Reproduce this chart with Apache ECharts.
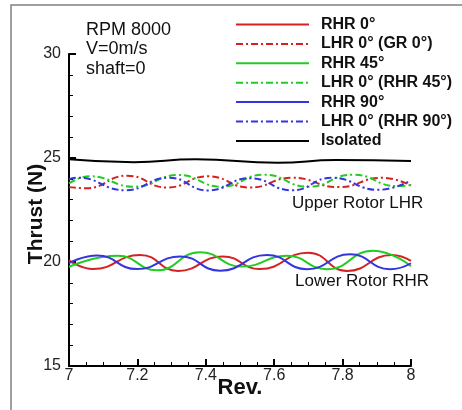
<!DOCTYPE html>
<html>
<head>
<meta charset="utf-8">
<script src="https://cdn.jsdelivr.net/npm/echarts@6/dist/echarts.min.js"></script>
<style>
  html, body { margin: 0; padding: 0; background: #fff; }
  #chart { width: 462px; height: 410px; }
</style>
</head>
<body>
<div id="chart"></div>
<script>
// axis ticks
const revTicks = [7, 7.2, 7.4, 7.6, 7.8, 8];
const thrustTicks = [15, 20, 25, 30];

// lower rotor (RHR), solid lines
const rhr0Rev = [7.0, 7.07, 7.208, 7.319, 7.45, 7.558, 7.699, 7.813, 7.944, 8.0];
const rhr0Thrust = [20.08, 19.66, 20.34, 19.57, 20.27, 19.66, 20.45, 19.57, 20.34, 20.05];
const rhr45Rev = [7.0, 7.143, 7.257, 7.383, 7.506, 7.637, 7.754, 7.889, 8.0];
const rhr45Thrust = [19.77, 20.3, 19.6, 20.47, 19.78, 20.3, 19.65, 20.54, 19.8];
const rhr90Rev = [7.0, 7.082, 7.199, 7.325, 7.442, 7.579, 7.696, 7.822, 7.939, 8.0];
const rhr90Thrust = [19.95, 20.31, 19.66, 20.27, 19.58, 20.34, 19.65, 20.37, 19.65, 19.94];

// upper rotor (LHR), dash-dot lines
const lhrGrRev = [7.0, 7.05, 7.17, 7.287, 7.406, 7.529, 7.652, 7.789, 7.915, 8.0];
const lhrGrThrust = [23.6, 23.55, 24.15, 23.58, 24.12, 23.58, 24.05, 23.6, 24.05, 23.68];
const lhr45Rev = [7.0, 7.061, 7.19, 7.32, 7.445, 7.57, 7.70, 7.83, 7.96, 8.0];
const lhr45Thrust = [23.78, 24.12, 23.62, 24.18, 23.62, 24.2, 23.62, 24.2, 23.65, 23.7];
const lhr90Rev = [7.0, 7.026, 7.164, 7.292, 7.406, 7.529, 7.652, 7.769, 7.904, 8.0];
const lhr90Thrust = [23.98, 24.05, 23.45, 24.05, 23.44, 24.03, 23.45, 24.05, 23.47, 23.92];

// isolated rotor
const isoRev = [7.0, 7.19, 7.37, 7.61, 7.78, 8.0];
const isoThrust = [24.94, 24.8, 24.94, 24.77, 24.9, 24.86];

const chart = echarts.init(document.getElementById('chart'));

const FONT = 'Liberation Sans, Arial, sans-serif';
const dashDot = [7, 3, 2, 3];

const zip = (xs, ys) => xs.map((x, i) => [x, ys[i]]);

// 生成系列
const makeSeries = (name, xs, ys, color, dashed) => ({
  name,
  type: 'line',
  data: zip(xs, ys),
  smooth: 0.5,
  symbol: 'none',
  lineStyle: {
    color,
    width: 2,
    type: dashed ? dashDot : 'solid'
  },
  itemStyle: { color }
});

const RED = '#d42222';
const GREEN = '#22cc22';
const BLUE = '#3434e0';

const axisLabel = {
  color: '#222',
  fontFamily: FONT,
  fontSize: 16
};

const nameTextStyle = {
  color: '#111',
  fontFamily: FONT,
  fontSize: 22,
  fontWeight: 'bold'
};

const option = {
  animation: false,
  grid: {
    left: 69,
    top: 54,
    width: 342,
    height: 312,
    containLabel: false
  },
  legend: {
    orient: 'vertical',
    left: 235,
    top: 15,
    padding: 0,
    itemWidth: 73,
    itemHeight: 10,
    itemGap: 0.4,
    itemStyle: { opacity: 0 },
    textStyle: {
      color: '#111',
      fontFamily: FONT,
      fontSize: 16,
      fontWeight: 'bold',
      lineHeight: 19,
      padding: [0, 0, 0, 7]
    },
    data: ['RHR 0°', 'LHR 0° (GR 0°)', 'RHR 45°', 'LHR 0° (RHR 45°)', 'RHR 90°', 'LHR 0° (RHR 90°)', 'Isolated']
  },
  xAxis: {
    type: 'value',
    min: revTicks[0],
    max: revTicks[revTicks.length - 1],
    interval: 0.2,
    name: 'Rev.',
    nameLocation: 'middle',
    nameGap: 11,
    nameMoveOverlap: false,
    nameTextStyle,
    axisLine: { lineStyle: { color: '#000', width: 2 } },
    axisTick: { inside: true, length: 7, lineStyle: { color: '#000', width: 2 } },
    minorTick: { show: true, splitNumber: 4, length: 4, lineStyle: { color: '#000', width: 1 } },
    axisLabel: { ...axisLabel, margin: 2 },
    splitLine: { show: false }
  },
  yAxis: {
    type: 'value',
    min: thrustTicks[0],
    max: thrustTicks[thrustTicks.length - 1],
    interval: 5,
    name: 'Thrust (N)',
    nameLocation: 'middle',
    nameGap: 22,
    nameMoveOverlap: false,
    nameTextStyle: { ...nameTextStyle, fontSize: 21, padding: [0, 8, 0, 0] },
    axisLine: { show: true, lineStyle: { color: '#000', width: 2 } },
    axisTick: { show: true, inside: true, length: 7, lineStyle: { color: '#000', width: 2 } },
    minorTick: { show: true, splitNumber: 5, length: 4, lineStyle: { color: '#000', width: 1 } },
    axisLabel: { ...axisLabel, margin: 8 },
    splitLine: { show: false }
  },
  graphic: [
    {
      type: 'rect',
      silent: true,
      z: -1,
      shape: { x: 11, y: 5, width: 520, height: 480 },
      style: { fill: 'none', stroke: '#808080', lineWidth: 1.5 }
    },
    { type: 'text', left: 86, top: 21, style: { text: 'RPM 8000', font: '18px ' + FONT, fill: '#111' } },
    { type: 'text', left: 86, top: 40.5, style: { text: 'V=0m/s', font: '18px ' + FONT, fill: '#111' } },
    { type: 'text', left: 86, top: 60, style: { text: 'shaft=0', font: '18px ' + FONT, fill: '#111' } },
    { type: 'text', left: 292, top: 195, style: { text: 'Upper Rotor LHR', font: '17px ' + FONT, fill: '#111' } },
    { type: 'text', left: 295, top: 273, style: { text: 'Lower Rotor RHR', font: '17px ' + FONT, fill: '#111' } }
  ],
  series: [
    makeSeries('RHR 0°', rhr0Rev, rhr0Thrust, RED, false),
    makeSeries('LHR 0° (GR 0°)', lhrGrRev, lhrGrThrust, RED, true),
    makeSeries('RHR 45°', rhr45Rev, rhr45Thrust, GREEN, false),
    makeSeries('LHR 0° (RHR 45°)', lhr45Rev, lhr45Thrust, GREEN, true),
    makeSeries('RHR 90°', rhr90Rev, rhr90Thrust, BLUE, false),
    makeSeries('LHR 0° (RHR 90°)', lhr90Rev, lhr90Thrust, BLUE, true),
    makeSeries('Isolated', isoRev, isoThrust, '#000', false)
  ]
};

chart.setOption(option);
</script>
</body>
</html>
